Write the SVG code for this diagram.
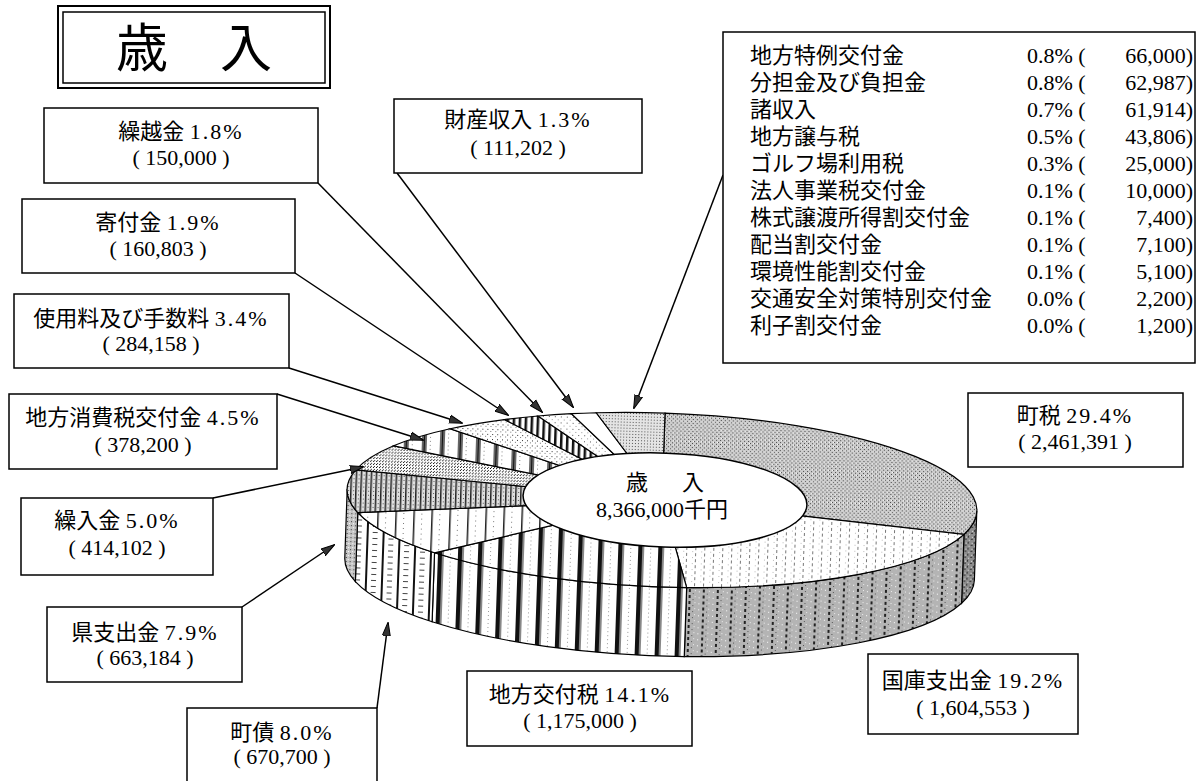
<svg xmlns="http://www.w3.org/2000/svg" width="1200" height="781" viewBox="0 0 1200 781">
<style>
.box{fill:#fff;stroke:#000;stroke-width:1.5}
.t{font-family:"Liberation Serif","Noto Sans CJK JP",serif;font-size:22px;fill:#000}
.c{text-anchor:middle}
.e{text-anchor:end}
.p{letter-spacing:2px}
.s{stroke:#000;stroke-width:1.2}
.conn{stroke:#000;stroke-width:1.5;fill:none;marker-end:url(#ah)}
</style>
<defs>
<marker id="ah" markerWidth="14" markerHeight="10" refX="13" refY="5" orient="auto" markerUnits="userSpaceOnUse"><path d="M0,1 L14,5 L0,9 Z" fill="#333" stroke="#000" stroke-width="1"/></marker>
<pattern id="pTaxTop" width="4" height="4" patternUnits="userSpaceOnUse"><rect width="4" height="4" fill="#cdcdcd"/><rect width="1" height="1" fill="#444"/><rect x="2" y="2" width="1" height="1" fill="#444"/><rect x="3" y="0" width="1" height="1" fill="#fff"/></pattern>
<pattern id="pTaxWall" width="6" height="6" patternUnits="userSpaceOnUse"><rect width="6" height="6" fill="#8c8c8c"/><rect width="2" height="1" fill="#333"/><rect x="3" y="3" width="1" height="2" fill="#333"/><rect x="4" y="1" width="1" height="1" fill="#ddd"/><rect x="1" y="4" width="1" height="1" fill="#ddd"/></pattern>
<pattern id="pNatTop" width="9" height="6" patternUnits="userSpaceOnUse"><rect width="9" height="6" fill="#fff"/><rect x="4" y="0" width="1" height="3" fill="#777"/><rect x="1" y="4" width="1" height="1" fill="#bbb"/></pattern>
<pattern id="pNatWall" width="14" height="6" patternUnits="userSpaceOnUse"><rect width="14" height="6" fill="#b4b4b4"/><rect x="6" y="0" width="2" height="3" fill="#222"/><rect x="2" y="2" width="1" height="1" fill="#fff"/><rect x="10" y="4" width="1" height="1" fill="#555"/><rect x="12" y="1" width="1" height="1" fill="#eee"/></pattern>
<pattern id="pBars" width="20" height="4" patternUnits="userSpaceOnUse"><rect width="20" height="4" fill="#fff"/><rect width="4" height="4" fill="#111"/><rect x="4" width="2" height="4" fill="#888"/><rect x="12" y="1" width="1" height="1" fill="#999"/></pattern>
<pattern id="pBondWall" width="16" height="6" patternUnits="userSpaceOnUse"><rect width="16" height="6" fill="#fff"/><rect width="2" height="6" fill="#111"/><rect x="6" y="2" width="5" height="1" fill="#444"/></pattern>
<pattern id="pBondTop" width="18" height="5" patternUnits="userSpaceOnUse"><rect width="18" height="5" fill="#fff"/><rect width="1.5" height="5" fill="#222"/><rect x="8" y="2" width="1" height="1" fill="#777"/></pattern>
<pattern id="pPrefTop" width="5" height="4" patternUnits="userSpaceOnUse"><rect width="5" height="4" fill="#e0e0e0"/><rect width="1.5" height="4" fill="#222"/><rect x="3" y="1" width="1" height="1" fill="#555"/></pattern>
<pattern id="pPrefWall" width="4" height="4" patternUnits="userSpaceOnUse"><rect width="4" height="4" fill="#c4c4c4"/><rect width="1" height="1" fill="#333"/><rect x="2" y="2" width="1" height="1" fill="#fff"/></pattern>
<pattern id="pTransTop" width="3" height="3" patternUnits="userSpaceOnUse"><rect width="3" height="3" fill="#fff"/><rect width="1" height="1" fill="#000"/><rect x="1" y="2" width="1" height="1" fill="#333"/></pattern>
<pattern id="pConsTop" width="18" height="4" patternUnits="userSpaceOnUse"><rect width="18" height="4" fill="#fff"/><rect x="6" width="5" height="4" fill="#666"/><rect x="8" width="1" height="4" fill="#111"/><rect x="14" y="1" width="1" height="1" fill="#888"/></pattern>
<pattern id="pFeeTop" width="5" height="5" patternUnits="userSpaceOnUse"><rect width="5" height="5" fill="#fff"/><rect width="1" height="1" fill="#333"/><rect x="3" y="2" width="1" height="1" fill="#777"/></pattern>
<pattern id="pDonTop" width="6" height="4" patternUnits="userSpaceOnUse"><rect width="6" height="4" fill="#fff"/><rect width="2.5" height="4" fill="#111"/></pattern>
<pattern id="pCarryTop" width="6" height="6" patternUnits="userSpaceOnUse"><rect width="6" height="6" fill="#fff"/><rect width="1" height="1" fill="#555"/><rect x="3" y="3" width="1" height="1" fill="#999"/></pattern>
<pattern id="pOthTop" width="3" height="3" patternUnits="userSpaceOnUse"><rect width="3" height="3" fill="#e4e4e4"/><rect width="1" height="1" fill="#555"/></pattern>
</defs>
<rect width="1200" height="781" fill="#fff"/>

<g id="title">
<rect x="58" y="6" width="272" height="82" fill="#fff" stroke="#000" stroke-width="2"/>
<rect x="63" y="12" width="262" height="71" fill="none" stroke="#000" stroke-width="1.5"/>
<text class="t c" x="194" y="67" style="font-size:52px">歳　入</text>
</g>

<g id="pie">
<g transform="rotate(2 662 500)">
<path class="s" fill="url(#pTaxWall)" d="M977,500 A315,87 0 0 1 965.0,523.8 L965.0,592.8 A315,87 0 0 0 977,569 Z"/>
<path class="s" fill="url(#pNatWall)" d="M965.0,523.8 A315,87 0 0 1 689.7,586.7 L689.7,655.7 A315,87 0 0 0 965.0,592.8 Z"/>
<path class="s" fill="url(#pBars)" d="M689.7,586.7 A315,87 0 0 1 436.5,560.7 L436.5,629.7 A315,87 0 0 0 689.7,655.7 Z"/>
<path class="s" fill="url(#pBondWall)" d="M436.5,560.7 A315,87 0 0 1 358.4,523.2 L358.4,592.2 A315,87 0 0 0 436.5,629.7 Z"/>
<path class="s" fill="url(#pPrefWall)" d="M358.4,523.2 A315,87 0 0 1 347,500 L347,569 A315,87 0 0 0 358.4,592.2 Z"/>
<path class="s" fill="url(#pTaxTop)" d="M662,500 L662,413 A315,87 0 0 1 965.0,523.8 Z"/>
<path class="s" fill="url(#pNatTop)" d="M662,500 L965.0,523.8 A315,87 0 0 1 689.7,586.7 Z"/>
<path class="s" fill="url(#pBars)" d="M662,500 L689.7,586.7 A315,87 0 0 1 436.5,560.7 Z"/>
<path class="s" fill="url(#pBondTop)" d="M662,500 L436.5,560.7 A315,87 0 0 1 358.4,523.2 Z"/>
<path class="s" fill="url(#pPrefTop)" d="M662,500 L358.4,523.2 A315,87 0 0 1 355.0,480.5 Z"/>
<path class="s" fill="url(#pTransTop)" d="M662,500 L355.0,480.5 A315,87 0 0 1 391.9,455.2 Z"/>
<path class="s" fill="url(#pConsTop)" d="M662,500 L391.9,455.2 A315,87 0 0 1 447.8,436.2 Z"/>
<path class="s" fill="url(#pFeeTop)" d="M662,500 L447.8,436.2 A315,87 0 0 1 501.7,425.1 Z"/>
<path class="s" fill="url(#pDonTop)" d="M662,500 L501.7,425.1 A315,87 0 0 1 535.1,420.4 Z"/>
<path class="s" fill="url(#pCarryTop)" d="M662,500 L535.1,420.4 A315,87 0 0 1 568.4,416.9 Z"/>
<path class="s" fill="#fff" d="M662,500 L568.4,416.9 A315,87 0 0 1 593.3,415.1 Z"/>
<path class="s" fill="url(#pOthTop)" d="M662,500 L593.3,415.1 A315,87 0 0 1 662,413 Z"/>
<ellipse cx="665" cy="500" rx="142" ry="47" fill="#fff" stroke="#000" stroke-width="1.5"/>
</g>
<text class="t c" x="668" y="490" style="letter-spacing:6px">歳　入</text>
<text class="t c" x="662" y="517">8,366,000千円</text>
</g>

<g id="connectors">
<line class="conn" x1="318" y1="183" x2="542" y2="412"/>
<line class="conn" x1="295" y1="273" x2="508" y2="415"/>
<line class="conn" x1="289" y1="368" x2="462" y2="423"/>
<line class="conn" x1="277" y1="394" x2="423" y2="440"/>
<line class="conn" x1="213" y1="498" x2="363" y2="467"/>
<line class="conn" x1="242" y1="607" x2="334" y2="545"/>
<line class="conn" x1="377" y1="708" x2="388" y2="623"/>
<line class="conn" x1="397" y1="173" x2="573" y2="407"/>
<line class="conn" x1="723" y1="175" x2="634" y2="408"/>
</g>

<g id="n-kurikoshi">
<rect class="box" x="44" y="108" width="274" height="75"/>
<text class="t c" x="181" y="139">繰越金 <tspan class="p">1.8%</tspan></text>
<text class="t c" x="181" y="165">( 150,000 )</text>
</g>
<g id="n-kifu">
<rect class="box" x="22" y="199" width="273" height="74"/>
<text class="t c" x="158" y="230">寄付金 <tspan class="p">1.9%</tspan></text>
<text class="t c" x="158" y="256">( 160,803 )</text>
</g>
<g id="n-shiyoryo">
<rect class="box" x="14" y="294" width="275" height="74"/>
<text class="t c" x="151" y="326">使用料及び手数料 <tspan class="p">3.4%</tspan></text>
<text class="t c" x="151" y="351">( 284,158 )</text>
</g>
<g id="n-shohizei">
<rect class="box" x="9" y="394" width="268" height="75"/>
<text class="t c" x="143" y="425">地方消費税交付金 <tspan class="p">4.5%</tspan></text>
<text class="t c" x="143" y="452">( 378,200 )</text>
</g>
<g id="n-kuriire">
<rect class="box" x="21" y="498" width="192" height="77"/>
<text class="t c" x="117" y="528">繰入金 <tspan class="p">5.0%</tspan></text>
<text class="t c" x="117" y="555">( 414,102 )</text>
</g>
<g id="n-kenshishutsu">
<rect class="box" x="47" y="607" width="195" height="75"/>
<text class="t c" x="145" y="640">県支出金 <tspan class="p">7.9%</tspan></text>
<text class="t c" x="145" y="665">( 663,184 )</text>
</g>
<g id="n-chosai">
<rect class="box" x="187" y="708" width="190" height="85"/>
<text class="t c" x="282" y="740">町債 <tspan class="p">8.0%</tspan></text>
<text class="t c" x="282" y="764">( 670,700 )</text>
</g>
<g id="n-kofuzei">
<rect class="box" x="467" y="671" width="225" height="75"/>
<text class="t c" x="580" y="702">地方交付税 <tspan class="p">14.1%</tspan></text>
<text class="t c" x="580" y="728">( 1,175,000 )</text>
</g>
<g id="n-kokko">
<rect class="box" x="868" y="654" width="210" height="80"/>
<text class="t c" x="973" y="688">国庫支出金 <tspan class="p">19.2%</tspan></text>
<text class="t c" x="973" y="715">( 1,604,553 )</text>
</g>
<g id="n-chozei">
<rect class="box" x="968" y="393" width="215" height="74"/>
<text class="t c" x="1075" y="423">町税 <tspan class="p">29.4%</tspan></text>
<text class="t c" x="1075" y="449">( 2,461,391 )</text>
</g>
<g id="n-zaisan">
<rect class="box" x="394" y="99" width="248" height="74"/>
<text class="t c" x="518" y="127">財産収入 <tspan class="p">1.3%</tspan></text>
<text class="t c" x="518" y="155">( 111,202 )</text>
</g>

<g id="n-others">
<rect class="box" x="723" y="32" width="472" height="331"/>
<g class="t">
<text x="750" y="63">地方特例交付金</text><text x="1027" y="63">0.8% (</text><text class="e" x="1193" y="63">66,000)</text>
<text x="750" y="90">分担金及び負担金</text><text x="1027" y="90">0.8% (</text><text class="e" x="1193" y="90">62,987)</text>
<text x="750" y="117">諸収入</text><text x="1027" y="117">0.7% (</text><text class="e" x="1193" y="117">61,914)</text>
<text x="750" y="144">地方譲与税</text><text x="1027" y="144">0.5% (</text><text class="e" x="1193" y="144">43,806)</text>
<text x="750" y="171">ゴルフ場利用税</text><text x="1027" y="171">0.3% (</text><text class="e" x="1193" y="171">25,000)</text>
<text x="750" y="198">法人事業税交付金</text><text x="1027" y="198">0.1% (</text><text class="e" x="1193" y="198">10,000)</text>
<text x="750" y="225">株式譲渡所得割交付金</text><text x="1027" y="225">0.1% (</text><text class="e" x="1193" y="225">7,400)</text>
<text x="750" y="252">配当割交付金</text><text x="1027" y="252">0.1% (</text><text class="e" x="1193" y="252">7,100)</text>
<text x="750" y="279">環境性能割交付金</text><text x="1027" y="279">0.1% (</text><text class="e" x="1193" y="279">5,100)</text>
<text x="750" y="306">交通安全対策特別交付金</text><text x="1027" y="306">0.0% (</text><text class="e" x="1193" y="306">2,200)</text>
<text x="750" y="333">利子割交付金</text><text x="1027" y="333">0.0% (</text><text class="e" x="1193" y="333">1,200)</text>
</g>
</g>
</svg>
